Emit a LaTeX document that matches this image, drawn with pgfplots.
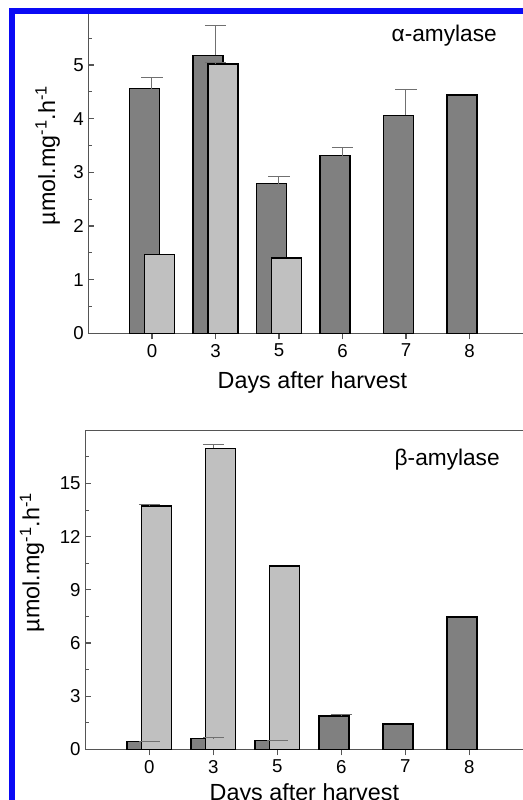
\documentclass[border=0pt]{standalone}
\usepackage{pgfplots}
\pgfplotsset{compat=1.18}
\usepackage{fontspec}
\setmainfont{Liberation Sans}

\definecolor{darkbar}{HTML}{808080}
\definecolor{lightbar}{HTML}{C0C0C0}
\definecolor{axisgray}{HTML}{555555}
\definecolor{errgray}{HTML}{707070}
\definecolor{frameblue}{HTML}{0A0AF5}

\pgfplotsset{
  amyl/.style={
    scale only axis,
    xmin=-1, xmax=6,
    xtick={0,...,5},
    xticklabels={0,3,5,6,7,8},
    xtick align=outside,
    ytick align=inside,
    xtick pos=left, ytick pos=left,
    major tick length=4.5pt,
    minor tick length=2.5pt,
    axis line style={axisgray, line width=0.8pt},
    every tick/.style={axisgray, line width=0.8pt},
    tick label style={font=\fontsize{14}{16}\selectfont},
    /pgf/number format/assume math mode=true,
  },
  darkb/.style={ybar, bar width=22.5pt, bar shift=-5.5pt, fill=darkbar, draw=black, line width=1.1pt},
  lightb/.style={ybar, bar width=22.5pt, bar shift=5.5pt, fill=lightbar, draw=black, line width=1.1pt},
  errs/.style={ybar, bar width=22.5pt, bar shift=#1, draw=none, fill=none,
    error bars/.cd, y dir=plus, y explicit,
    error bar style={draw=errgray, line width=0.75pt},
    error mark options={draw=errgray, line width=0.75pt, mark size=7.9pt, rotate=90}},
}

\begin{document}
\begin{tikzpicture}
\path[use as bounding box] (0,0) rectangle (392.25pt,-600pt);
\clip (0,0) rectangle (392.25pt,-600pt);

% alpha-amylase
\begin{axis}[amyl,
  at={(66.375pt,-249.975pt)}, anchor=south west,
  width=333.375pt, height=241.5pt,
  ymin=0, ymax=6,
  ytick={0,...,5}, minor ytick={0.5,1.5,...,5.5},
]
\addplot[darkb] coordinates {(0,4.56) (1,5.18) (2,2.79) (3,3.31) (4,4.06) (5,4.44)};
\addplot[lightb] coordinates {(0,1.47) (1,5.02) (2,1.40)};
\addplot[errs=-5.5pt] coordinates {(0,4.56) +- (0,0.20) (1,5.18) +- (0,0.55) (2,2.79) +- (0,0.13) (3,3.31) +- (0,0.15) (4,4.06) +- (0,0.48)};
\addplot[errs=5.5pt] coordinates {(1,5.02) +- (0,0.03)};
\end{axis}

% beta-amylase
\begin{axis}[amyl,
  at={(63.975pt,-561.975pt)}, anchor=south west,
  width=336pt, height=239.2pt,
  ymin=0, ymax=18,
  ytick={0,3,...,15}, minor ytick={1.5,4.5,...,16.5},
]
\addplot[darkb] coordinates {(0,0.43) (1,0.62) (2,0.49) (3,1.88) (4,1.43) (5,7.48)};
\addplot[lightb] coordinates {(0,13.73) (1,16.99) (2,10.34)};
\addplot[errs=5.5pt] coordinates {(0,13.73) +- (0,0.10) (1,16.99) +- (0,0.24)};
\addplot[errs=-5.5pt] coordinates {(0,0.43) +- (0,0.02) (1,0.62) +- (0,0.02) (2,0.49) +- (0,0.02) (3,1.88) +- (0,0.09)};
\end{axis}

\node[anchor=base west, font=\fontsize{17}{20}\selectfont] at (290.25pt,-31.3pt) {α-amylase};
\node[anchor=base west, font=\fontsize{17}{20}\selectfont] at (292.5pt,-348.75pt) {β-amylase};
\node[anchor=base west, font=\fontsize{17.5}{20}\selectfont] at (159.75pt,-291.2pt) {Days after harvest};
\node[anchor=base west, font=\fontsize{17.5}{20}\selectfont] at (153.75pt,-600pt) {Days after harvest};
\node[anchor=base west, rotate=90, font=\fontsize{17.5}{20}\selectfont] at (41.25pt,-172.5pt) {µmol.mg\textsuperscript{-1}.h\textsuperscript{-1}};
\node[anchor=base west, rotate=90, font=\fontsize{17.5}{20}\selectfont] at (29.6pt,-477.75pt) {µmol.mg\textsuperscript{-1}.h\textsuperscript{-1}};

\draw[frameblue, line width=4.1pt] (9.15pt,-700pt) -- (9.15pt,-8.4pt) -- (500pt,-8.4pt);
\end{tikzpicture}
\end{document}
